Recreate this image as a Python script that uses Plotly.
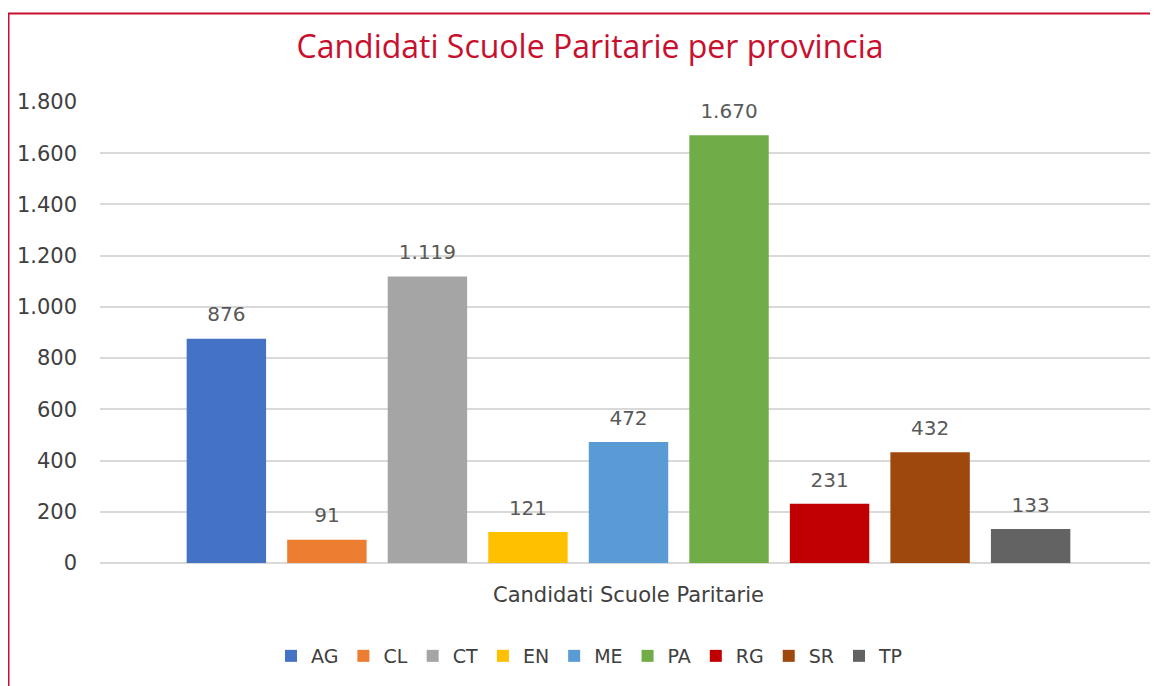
import plotly.graph_objects as go

category = ["Candidati Scuole Paritarie"]
provinces = ["AG", "CL", "CT", "EN", "ME", "PA", "RG", "SR", "TP"]
values = [876, 91, 1119, 121, 472, 1670, 231, 432, 133]
colors = ["#4472C4", "#ED7D31", "#A5A5A5", "#FFC000", "#5B9BD5",
          "#70AD47", "#C00000", "#9E480E", "#636363"]
y_ticks = [0, 200, 400, 600, 800, 1000, 1200, 1400, 1600, 1800]

TITLE_FONT = "Open Sans, Noto Sans, sans-serif"
FONT = "DejaVu Sans, Verdana, sans-serif"
BARGAP = 0.144

fig = go.Figure()
for name, v, c in zip(provinces, values, colors):
    fig.add_trace(go.Bar(
        x=category, y=[v], name=name, marker=dict(color=c, line=dict(width=0)),
        offsetgroup=name,
    ))
# data labels, aligned with the grouped bars
for name, v in zip(provinces, values):
    fig.add_trace(go.Scatter(
        x=category, y=[v], mode="markers+text", offsetgroup=name,
        text=[f"{v:,}".replace(",", ".")], textposition="top center",
        textfont=dict(family=FONT, size=20, color="#595959"),
        marker=dict(size=18, opacity=0), showlegend=False,
        hoverinfo="skip", cliponaxis=False,
    ))

# page is offset by the 8px body margin
OFF = 8
W, H = 1158, 686
L, R, T, B = 100 - OFF, 9, 102 - OFF, H - (563 - OFF)
pw, ph = W - L - R, H - T - B

def px_x(x):
    return (x - OFF - L) / pw

def px_y(y):
    return (H - B - (y - OFF)) / ph

fig.update_layout(
    width=W, height=H,
    margin=dict(l=L, r=R, t=T, b=B, autoexpand=False),
    paper_bgcolor="white", plot_bgcolor="white",
    separators=",.",
    barmode="group", bargap=BARGAP, bargroupgap=0.21,
    scattermode="group", scattergap=BARGAP,
    title=dict(text="Candidati Scuole Paritarie per provincia",
               font=dict(family=TITLE_FONT, size=32, color="#C8102E"),
               x=(590 - OFF) / W, xanchor="center",
               y=1 - (47 - OFF) / H, yanchor="middle"),
    xaxis=dict(showgrid=False, showline=False, ticks="", showticklabels=False,
               title=dict(text="Candidati Scuole Paritarie",
                          font=dict(family=FONT, size=21, color="#404040"),
                          standoff=24)),
    yaxis=dict(range=[0, 1800], tickvals=y_ticks, tickformat=",d",
               gridcolor="#D9D9D9", gridwidth=1.5, zeroline=True,
               zerolinecolor="#D9D9D9", zerolinewidth=1.5, showline=False,
               tickfont=dict(family=FONT, size=21, color="#404040"),
               ticklabelstandoff=22),
    legend=dict(orientation="h", x=px_x(590), xanchor="center",
                y=px_y(656), yanchor="middle",
                font=dict(family=FONT, size=19, color="#404040"),
                itemwidth=30, traceorder="normal"),
    showlegend=True,
)

fig.add_shape(type="rect", xref="paper", yref="paper",
              x0=px_x(8.5), x1=px_x(1250), y0=px_y(760), y1=px_y(13.5),
              line=dict(color="#C8102E", width=2), fillcolor="rgba(0,0,0,0)",
              layer="above")

fig.write_html("out.html")
